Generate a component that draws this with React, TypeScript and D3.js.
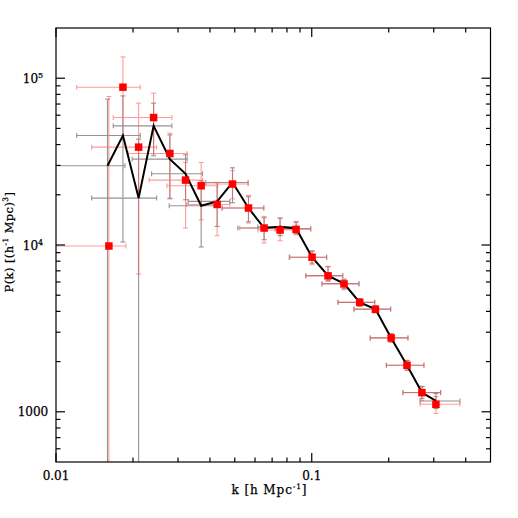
import React from 'react';
import * as d3 from 'd3';

// ---- Data (k in h/Mpc, P(k) in (Mpc/h)^3) ----
// Model / black line series with gray error bars
const kLine = [0.0159, 0.01827, 0.02104, 0.02408, 0.02788, 0.03211, 0.03695, 0.04267, 0.049, 0.05657, 0.06512, 0.0752, 0.08686, 0.1003, 0.1158, 0.1337, 0.154, 0.1774, 0.2044, 0.2357, 0.2697, 0.3059];
const pLine = [29850, 45320, 19110, 51810, 32730, 26730, 17190, 18250, 23710, 16660, 12640, 12870, 12570, 8451, 6549, 5866, 4532, 4127, 2774, 1901, 1305, 1161];
const pLineLo = [1, 10420, 1, 34240, 18930, 18670, 9727, 12930, 17920, 13790, 10760, 11370, 11690, 7780, 6112, 5474, 4301, 3932, 2618, 1780, 1201, 1046];
const pLineHi = [74880, 78340, 43130, 70850, 45760, 34720, 24270, 23710, 29030, 19460, 14570, 14470, 13790, 9182, 7413, 6240, 4769, 4331, 2944, 2029, 1418, 1287];
const kLineLo = [0.0085, 0.01205, 0.01379, 0.01674, 0.01986, 0.02365, 0.02771, 0.03287, 0.03854, 0.04451, 0.0514, 0.06153, 0.07236, 0.08205, 0.09475, 0.1097, 0.1267, 0.1463, 0.1693, 0.1958, 0.2273, 0.2653];
const kLineHi = [0.0186, 0.02135, 0.02474, 0.02839, 0.03258, 0.03741, 0.04267, 0.04782, 0.05638, 0.06494, 0.07568, 0.08737, 0.09911, 0.1144, 0.1322, 0.153, 0.1763, 0.2035, 0.2378, 0.2746, 0.3191, 0.3796];

// Red points series with red error bars
const kRed = [0.0161, 0.01827, 0.02104, 0.02408, 0.02788, 0.03211, 0.03695, 0.04267, 0.049, 0.05657, 0.06512, 0.0752, 0.08686, 0.1003, 0.1158, 0.1337, 0.154, 0.1774, 0.2044, 0.2357, 0.2697, 0.3059];
const pRed = [9862, 88330, 38620, 58090, 35360, 24500, 22650, 17500, 23190, 16660, 12640, 12290, 12400, 8451, 6531, 5842, 4532, 4116, 2774, 1901, 1302, 1109];
const pRedLo = [1, 42710, 6704, 35220, 19110, 12640, 14170, 11370, 18930, 13540, 10280, 10610, 11530, 7621, 6053, 5399, 4289, 3932, 2611, 1775, 1169, 976.7];
const pRedHi = [77620, 134150, 70850, 81330, 46850, 31230, 31230, 23610, 27860, 19820, 14840, 14510, 13650, 9245, 7446, 6197, 4750, 4289, 2931, 2037, 1423, 1235];
const kRedLo = [0.0085, 0.01205, 0.01379, 0.01674, 0.01916, 0.02314, 0.02714, 0.0324, 0.03785, 0.04479, 0.05233, 0.06153, 0.07171, 0.08153, 0.09475, 0.1097, 0.1267, 0.1463, 0.1693, 0.1958, 0.2273, 0.2653];
const kRedHi = [0.01877, 0.02135, 0.02474, 0.02839, 0.03258, 0.03741, 0.04294, 0.04782, 0.05638, 0.06494, 0.07568, 0.08737, 0.09911, 0.1144, 0.1322, 0.153, 0.1763, 0.2035, 0.2378, 0.2746, 0.3191, 0.3796];

// Ticks
const xMajorTicks = [0.01, 0.1];
const xMajorLabels = ['0.01', '0.1'];
const xMinorTicks = [0.02, 0.03, 0.04, 0.05, 0.06, 0.07, 0.08, 0.09, 0.2, 0.3, 0.4];
const yMajorTicks = [1000, 10000, 100000];
const yMajorLabels = [
  { base: '1000', sup: '' },
  { base: '10', sup: '4' },
  { base: '10', sup: '5' },
];
const yMinorTicks = [600, 700, 800, 900, 2000, 3000, 4000, 5000, 6000, 7000, 8000, 9000, 20000, 30000, 40000, 50000, 60000, 70000, 80000, 90000];

const FONT = '"DejaVu Serif", serif';

function ErrBars(props: {
  k: number[]; p: number[]; kLo: number[]; kHi: number[]; pLo: number[]; pHi: number[];
  x: (v: number) => number; y: (v: number) => number; color: string; opacity: number;
}) {
  const { k, p, kLo, kHi, pLo, pHi, x, y, color, opacity } = props;
  const cap = 2.5;
  return (
    <g stroke={color} strokeWidth={1.1} opacity={opacity} fill="none">
      {k.map((kv, i) => {
        const cx = x(kv);
        const cy = y(p[i]);
        const x0 = x(kLo[i]);
        const x1 = x(kHi[i]);
        const y0 = y(pLo[i]);
        const y1 = y(pHi[i]);
        return (
          <g key={i}>
            <line x1={x0} x2={x1} y1={cy} y2={cy} />
            <line x1={x0} x2={x0} y1={cy - cap} y2={cy + cap} />
            <line x1={x1} x2={x1} y1={cy - cap} y2={cy + cap} />
            <line x1={cx} x2={cx} y1={y0} y2={y1} />
            <line x1={cx - cap} x2={cx + cap} y1={y0} y2={y0} />
            <line x1={cx - cap} x2={cx + cap} y1={y1} y2={y1} />
          </g>
        );
      })}
    </g>
  );
}

export default function App() {
  const L = 56, R = 490.5, T = 28, B = 462;
  const x = d3.scaleLog().domain([0.01, 0.5]).range([L, R]);
  const y = d3.scaleLog().domain([500, 2e5]).range([B, T]);

  const linePath = d3.line<number>()
    .x((_, i) => x(kLine[i]))
    .y((d) => y(d))(pLine) || '';

  const majorLen = 9, minorLen = 4.5;
  const sq = 7.5;

  return (
    <svg width={518} height={518} style={{ position: 'absolute', left: 0, top: 0 }}>
      <rect x={0} y={0} width={518} height={518} fill="#fff" />
      <defs>
        <clipPath id="plotclip">
          <rect x={L} y={T} width={R - L} height={B - T} />
        </clipPath>
      </defs>

      <g clipPath="url(#plotclip)">
        <ErrBars k={kLine} p={pLine} kLo={kLineLo} kHi={kLineHi} pLo={pLineLo} pHi={pLineHi}
          x={x} y={y} color="#707070" opacity={0.75} />
        <ErrBars k={kRed} p={pRed} kLo={kRedLo} kHi={kRedHi} pLo={pRedLo} pHi={pRedHi}
          x={x} y={y} color="#ff5a5a" opacity={0.6} />
        <path d={linePath} fill="none" stroke="#000" strokeWidth={2} strokeLinejoin="miter" />
        {kRed.map((kv, i) => (
          <rect key={i} x={x(kv) - sq / 2} y={y(pRed[i]) - sq / 2} width={sq} height={sq} fill="#ff0000" />
        ))}
      </g>

      {/* frame */}
      <rect x={L} y={T} width={R - L} height={B - T} fill="none" stroke="#000" strokeWidth={1.2} />

      {/* ticks */}
      <g stroke="#000" strokeWidth={1.2}>
        {xMajorTicks.map((t, i) => (
          <g key={'xM' + i}>
            <line x1={x(t)} x2={x(t)} y1={B} y2={B - majorLen} />
            <line x1={x(t)} x2={x(t)} y1={T} y2={T + majorLen} />
          </g>
        ))}
        {xMinorTicks.map((t, i) => (
          <g key={'xm' + i}>
            <line x1={x(t)} x2={x(t)} y1={B} y2={B - minorLen} />
            <line x1={x(t)} x2={x(t)} y1={T} y2={T + minorLen} />
          </g>
        ))}
        {yMajorTicks.map((t, i) => (
          <g key={'yM' + i}>
            <line x1={L} x2={L + majorLen} y1={y(t)} y2={y(t)} />
            <line x1={R} x2={R - majorLen} y1={y(t)} y2={y(t)} />
          </g>
        ))}
        {yMinorTicks.map((t, i) => (
          <g key={'ym' + i}>
            <line x1={L} x2={L + minorLen} y1={y(t)} y2={y(t)} />
            <line x1={R} x2={R - minorLen} y1={y(t)} y2={y(t)} />
          </g>
        ))}
      </g>

      {/* tick labels */}
      <g fontFamily={FONT} fontSize={12} fill="#000" stroke="#000" strokeWidth={0.25}>
        {xMajorTicks.map((t, i) => (
          <text key={'xl' + i} x={x(t)} y={479.5} textAnchor="middle">{xMajorLabels[i]}</text>
        ))}
        {yMajorTicks.map((t, i) => (
          <text key={'yl' + i} x={33} y={y(t) + 4.5} textAnchor="middle">
            {yMajorLabels[i].base}
            {yMajorLabels[i].sup ? (
              <tspan fontSize={8} dy={-5}>{yMajorLabels[i].sup}</tspan>
            ) : null}
          </text>
        ))}
      </g>

      {/* axis titles */}
      <g fontFamily={FONT} fill="#000" stroke="#000" strokeWidth={0.25}>
        <text x={269.5} y={494} textAnchor="middle" fontSize={12} letterSpacing={0.9}>
          k [h Mpc<tspan fontSize={7.5} dy={-5}>-1</tspan><tspan dy={5}>]</tspan>
        </text>
        <text transform={`translate(13, ${242}) rotate(-90)`} textAnchor="middle" fontSize={11.5} letterSpacing={0.4}>
          P(k) [(h<tspan fontSize={7.5} dy={-5}>-1</tspan><tspan dy={5}> Mpc)</tspan><tspan fontSize={7.5} dy={-5}>3</tspan><tspan dy={5}>]</tspan>
        </text>
      </g>
    </svg>
  );
}
